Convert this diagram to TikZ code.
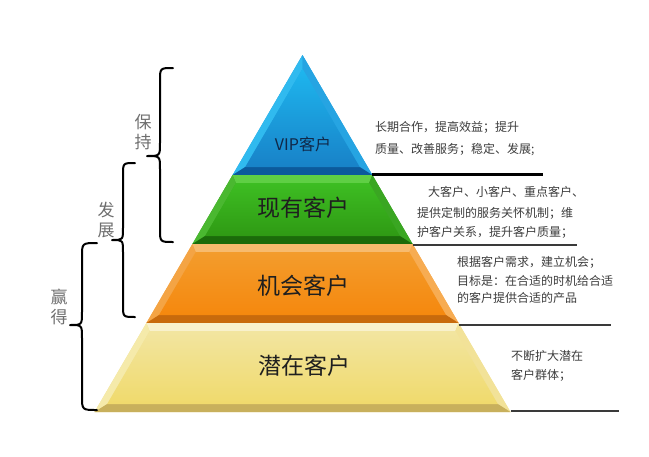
\documentclass[tikz,border=0pt]{standalone}
\usepackage{fontspec}
\setmainfont{Noto Sans CJK SC}
\definecolor{vipA}{HTML}{1EB6EE}
\definecolor{vipB}{HTML}{1882C8}
\definecolor{vipL}{HTML}{30BAEF}
\definecolor{vipR}{HTML}{26A4E2}
\definecolor{vipD}{HTML}{0C5A9C}
\definecolor{grA}{HTML}{3DBD22}
\definecolor{grB}{HTML}{2F9A14}
\definecolor{grT}{HTML}{5FCF44}
\definecolor{grL}{HTML}{4AB830}
\definecolor{grR}{HTML}{3AA622}
\definecolor{grD}{HTML}{1B6B0A}
\definecolor{orA}{HTML}{F39C2C}
\definecolor{orB}{HTML}{F5880E}
\definecolor{orT}{HTML}{F7BB6E}
\definecolor{orL}{HTML}{F4A444}
\definecolor{orR}{HTML}{F7AC52}
\definecolor{orD}{HTML}{C86A0C}
\definecolor{yeA}{HTML}{F2E5A0}
\definecolor{yeB}{HTML}{F0DA6C}
\definecolor{yeT}{HTML}{F8F1CC}
\definecolor{yeL}{HTML}{F5EAAA}
\definecolor{yeR}{HTML}{F2E298}
\definecolor{yeD}{HTML}{C8B05C}
\definecolor{txtgray}{HTML}{3C3C3C}
\definecolor{bracegray}{HTML}{6E6E6E}
\definecolor{linegray}{HTML}{3A3A3A}
\begin{document}
\begin{tikzpicture}[x=1pt,y=-1pt,
  desc/.style={anchor=base west,inner sep=0pt,text=txtgray,font=\fontsize{12}{14}\selectfont},
  biglabel/.style={anchor=base,inner sep=0pt,text=black!88,font=\fontsize{23}{26}\selectfont},
  bracelabel/.style={anchor=center,inner sep=0pt,text=bracegray,align=center,font=\fontsize{17}{20}\selectfont},
  bracestyle/.style={draw=black,line width=2pt,line cap=round,line join=round},
  sepline/.style={draw=linegray,line width=2pt}]
\useasboundingbox (0,0) rectangle (649,456);

% ---------- VIP band ----------
\fill[vipR] (302.5,55) -- (372.4,175) -- (232.6,175) -- cycle;
\fill[vipL] (302.5,55) -- (302.5,68.7) -- (245.25,167) -- (232.6,175) -- cycle;
\fill[vipR] (302.5,55) -- (372.4,175) -- (359.75,167) -- (302.5,68.7) -- cycle;
\fill[vipD] (232.6,175) -- (372.4,175) -- (359.75,167) -- (245.25,167) -- cycle;
\shade[top color=vipA,bottom color=vipB] (302.5,68.7) -- (359.75,167) -- (245.25,167) -- cycle;

% ---------- green band ----------
\fill[grR] (232.6,175) -- (372.4,175) -- (412.6,244) -- (192.4,244) -- cycle;
\fill[grT] (232.6,175) -- (372.4,175) -- (369.07,183) -- (235.93,183) -- cycle;
\fill[grL] (232.6,175) -- (235.93,183) -- (205.05,236) -- (192.4,244) -- cycle;
\fill[grR] (372.4,175) -- (412.6,244) -- (399.95,236) -- (369.07,183) -- cycle;
\fill[grD] (192.4,244) -- (412.6,244) -- (399.95,236) -- (205.05,236) -- cycle;
\shade[top color=grA,bottom color=grB] (235.93,183) -- (369.07,183) -- (399.95,236) -- (205.05,236) -- cycle;

% ---------- orange band ----------
\fill[orR] (192.4,244) -- (412.6,244) -- (458.6,323) -- (146.4,323) -- cycle;
\fill[orT] (192.4,244) -- (412.6,244) -- (409.27,252) -- (195.73,252) -- cycle;
\fill[orL] (192.4,244) -- (195.73,252) -- (159.02,315) -- (146.4,323) -- cycle;
\fill[orR] (412.6,244) -- (458.6,323) -- (445.98,315) -- (409.27,252) -- cycle;
\fill[orD] (146.4,323) -- (458.6,323) -- (445.98,315) -- (159.02,315) -- cycle;
\shade[top color=orA,bottom color=orB] (195.73,252) -- (409.27,252) -- (445.98,315) -- (159.02,315) -- cycle;

% ---------- yellow band ----------
\fill[yeR] (146.4,323) -- (458.6,323) -- (510.5,412) -- (94.5,412) -- cycle;
\fill[yeT] (146.4,323) -- (458.6,323) -- (455.3,331) -- (149.7,331) -- cycle;
\fill[yeL] (146.4,323) -- (149.7,331) -- (107.17,404) -- (94.5,412) -- cycle;
\fill[yeR] (458.6,323) -- (510.5,412) -- (497.83,404) -- (455.3,331) -- cycle;
\fill[yeD] (94.5,412) -- (510.5,412) -- (497.83,404) -- (107.17,404) -- cycle;
\shade[top color=yeA,bottom color=yeB] (149.7,331) -- (455.3,331) -- (497.83,404) -- (107.17,404) -- cycle;

% ---------- pyramid labels ----------
\node[biglabel,text={rgb,255:red,16;green,40;blue,72},font=\fontsize{16}{18}\selectfont] (vip) at (303,150) {VIP客户};
\node[biglabel] (xianyou) at (303,216) {现有客户};
\node[biglabel] (jihui) at (303,294) {机会客户};
\node[biglabel] (qianzai) at (304,374) {潜在客户};

% ---------- separator lines ----------
\coordinate (l1a) at (372.4,174.5); \coordinate (l1b) at (543,174.5);
\coordinate (l2a) at (412.6,244.5); \coordinate (l2b) at (577,244.5);
\coordinate (l3a) at (458.6,324.5); \coordinate (l3b) at (611,324.5);
\coordinate (l4a) at (510.5,411); \coordinate (l4b) at (619,411);
\draw[sepline,draw=black,line width=2.4pt] (l1a) -- (l1b);
\draw[sepline] (l2a) -- (l2b);
\draw[sepline] (l3a) -- (l3b);
\draw[sepline] (l4a) -- (l4b);

% ---------- descriptions ----------
\node[desc] (d11) at (375,131.5) {长期合作，提高效益；提升};
\node[desc] (d12) at (375,153.5) {质量、改善服务；稳定、发展;};
\node[desc] (d21) at (428,196.5) {大客户、小客户、重点客户、};
\node[desc] (d22) at (417,217) {提供定制的服务关怀机制；维};
\node[desc] (d23) at (417,236) {护客户关系，提升客户质量；};
\node[desc] (d31) at (457,266.5) {根据客户需求，建立机会；};
\node[desc] (d32) at (457,285.5) {目标是：在合适的时机给合适};
\node[desc] (d33) at (457,302.5) {的客户提供合适的产品};
\node[desc] (d41) at (511,360.5) {不断扩大潜在};
\node[desc] (d42) at (511,379.5) {客户群体；};

% ---------- braces ----------
\draw[bracestyle] (173,68) .. controls (160,68) .. (160,81) -- (160,143)
  .. controls (160,156) .. (147,156) .. controls (160,156) .. (160,169)
  -- (160,229) .. controls (160,242) .. (173,242);
\draw[bracestyle] (135,163) .. controls (123,163) .. (123,175) -- (123,228)
  .. controls (123,240) .. (112,240) .. controls (123,240) .. (123,252)
  -- (123,305) .. controls (123,317) .. (135,317);
\draw[bracestyle] (97,243) .. controls (82,243) .. (82,257) -- (82,312)
  .. controls (82,325) .. (70,325) .. controls (82,325) .. (82,338)
  -- (82,396) .. controls (82,410) .. (97,410);

\node[bracelabel] (baochi) at (143,132) {保\\持};
\node[bracelabel] (fazhan) at (106,220) {发\\展};
\node[bracelabel] (yingde) at (59,307) {赢\\得};
\end{tikzpicture}
\end{document}
